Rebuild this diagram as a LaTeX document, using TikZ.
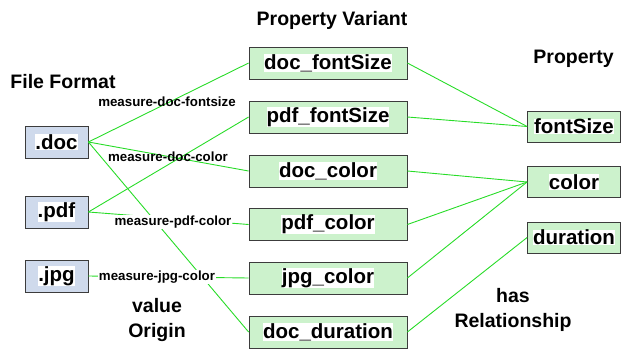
\documentclass[tikz,border=0pt]{standalone}
\usepackage{fontspec}
\setmainfont{Liberation Sans}
\definecolor{fmtblue}{RGB}{207,218,236}
\definecolor{varg}{RGB}{204,242,204}
\definecolor{lineg}{RGB}{40,220,40}
\definecolor{edge}{RGB}{60,60,60}
\newcommand{\wb}[1]{{\setlength{\fboxsep}{0pt}\colorbox{white}{#1}}}
\begin{document}
\begin{tikzpicture}[x=1pt,y=-1pt,
  box/.style={draw=edge, line width=0.8pt, minimum height=32pt, inner sep=0pt,
    font=\fontsize{20.5}{22}\selectfont\bfseries},
  fmt/.style={box, fill=fmtblue, minimum width=63pt},
  var/.style={box, fill=varg, minimum width=158pt},
  prop/.style={box, fill=varg, minimum width=93pt, minimum height=31pt},
  conn/.style={draw=lineg, line width=0.9pt},
  lbl/.style={inner sep=0.5pt, font=\fontsize{13.3}{15}\selectfont\bfseries},
  ttl/.style={inner sep=0pt, align=center, font=\fontsize{19.5}{24.5}\selectfont\bfseries}]
\useasboundingbox (0,0) rectangle (621,348);
% titles
\node[ttl] (tff) at (63,82) {File Format};
\node[ttl] (tpv) at (332,20) {Property Variant};
\node[ttl] (tp) at (573.5,59) {Property};
\node[ttl] (tvo) at (157,320) {value\\Origin};
\node[ttl] (thr) at (513,310) {has\\Relationship};
% file formats
\node[fmt] (dfile) at (56.5,142) {\wb{.doc}};
\node[fmt] (pfile) at (56.5,212) {\wb{.pdf}};
\node[fmt] (jfile) at (56.5,276) {\wb{.jpg}};
% variants
\node[var] (dfs) at (328,63) {\wb{doc\_fontSize}};
\node[var] (pfs) at (328,117) {\wb{pdf\_fontSize}};
\node[var] (dcol) at (328,171) {\wb{doc\_color}};
\node[var] (pcol) at (328,224.5) {\wb{pdf\_color}};
\node[var] (jcol) at (328,278) {\wb{jpg\_color}};
\node[var] (ddur) at (328,332) {\wb{doc\_duration}};
% properties
\node[prop] (fs) at (574,126.5) {\wb{fontSize}};
\node[prop] (col) at (574,182) {\wb{color}};
\node[prop] (dur) at (574,237.5) {\wb{duration}};
% value origin connectors
\draw[conn] (dfile.east) -- (dfs.west);
\draw[conn] (dfile.east) -- (dcol.west);
\draw[conn] (dfile.east) -- (ddur.west);
\draw[conn] (pfile.east) -- (pfs.west);
\draw[conn] (pfile.east) -- (pcol.west);
\draw[conn] (jfile.east) -- (jcol.west);
% has relationship connectors
\draw[conn] (dfs.east) -- (fs.west);
\draw[conn] (pfs.east) -- (fs.west);
\draw[conn] (dcol.east) -- (col.west);
\draw[conn] (pcol.east) -- (col.west);
\draw[conn] (jcol.east) -- (col.west);
\draw[conn] (ddur.east) -- (dur.west);
% labels
\node[lbl] (l1) at (167,102) {measure-doc-fontsize};
\node[lbl] (l2) at (168,157) {measure-doc-color};
\node[lbl, fill=white] (l3) at (173,222) {measure-pdf-color};
\node[lbl, fill=white] (l4) at (157,277) {measure-jpg-color};
\end{tikzpicture}
\end{document}
